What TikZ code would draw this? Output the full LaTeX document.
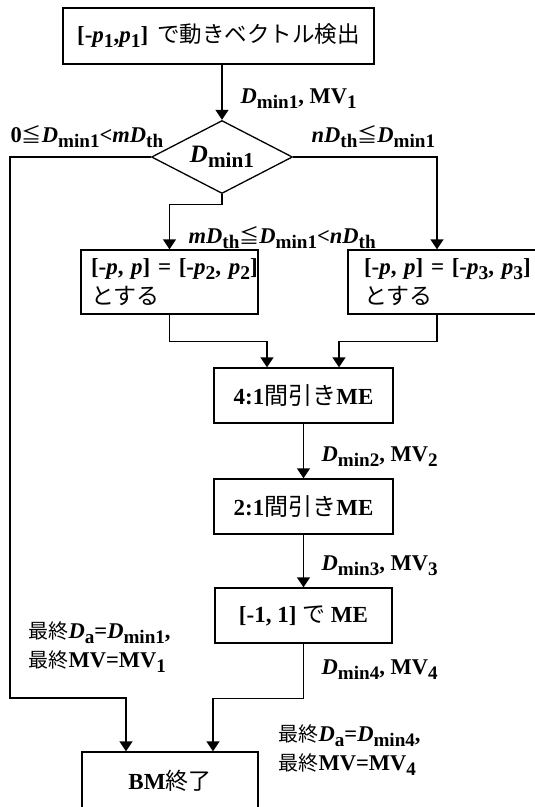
\documentclass[tikz,border=0pt]{standalone}
\usepackage{fontspec}
\usepackage{graphicx}
\setmainfont{Liberation Serif}
\newfontfamily\jp{Noto Sans CJK JP}
\usetikzlibrary{arrows.meta,shapes.geometric}
\newcommand{\J}[2][]{{\jp\mdseries\ifx&#1&\else\fontsize{#1}{#1}\selectfont\fi #2}}
\newcommand{\bi}[1]{{\bfseries\itshape #1}}
\newcommand{\sbx}[1]{\raisebox{-0.22em}{\scalebox{0.85}{\bfseries #1}}}
\newcommand{\Dm}[1]{\bi{D}\sbx{min#1}}
\newcommand{\Dth}{\bi{D}\sbx{th}}
\newcommand{\MVs}[1]{MV\sbx{#1}}
\newcommand{\myle}{\J[20]{≦}}
\newcommand{\fs}[2]{\fontsize{#1}{#2}\selectfont}
\begin{document}
\begin{tikzpicture}[x=1pt,y=-1pt,line width=1.3pt,
  box/.style={draw,rectangle,inner sep=0pt,font=\fs{23}{30}\bfseries},
  arr/.style={-{Triangle[length=10pt,width=13pt]}},
  lbl/.style={inner sep=0pt,anchor=west,font=\fs{22.5}{29}\bfseries,align=left}]
\useasboundingbox (0,0) rectangle (535,807);
% boxes
\node[box,minimum width=311pt,minimum height=56pt] (top) at (218.5,36)
  {\makebox[291pt][c]{[-\bi{p}\sbx{1},\bi{p}\sbx{1}]\hspace{9pt}\J[22.5]{で動きベクトル検出}}};
\node[draw,diamond,aspect=1.93,minimum width=141pt,minimum height=73pt,inner sep=0pt,font=\fs{25}{29}\bfseries] (dia) at (222,157) {\Dm{1}};
\node[box,minimum width=177pt,minimum height=64pt,inner xsep=10pt,text width=157pt,align=left] (lb) at (169.5,282)
  {\makebox[157pt][l]{[-\bi{p}, \bi{p}] = [-\bi{p}\sbx{2}, \bi{p}\sbx{2}]}\\\J[23]{とする}};
\node[box,minimum width=192pt,minimum height=64pt,inner xsep=16pt,text width=160pt,align=left] (rb) at (444,282)
  {\makebox[160pt][l]{[-\bi{p}, \bi{p}] = [-\bi{p}\sbx{3}, \bi{p}\sbx{3}]}\\\J[23]{とする}};
\node[box,minimum width=179pt,minimum height=55pt] (b41) at (303.5,395.5) {4:1\J[24]{間引き}ME};
\node[box,minimum width=179pt,minimum height=55pt] (b21) at (303.5,506.5) {2:1\J[24]{間引き}ME};
\node[box,minimum width=177pt,minimum height=55pt] (b11) at (303.5,615.5) {[-1, 1] \J[23]{で} ME};
\node[box,minimum width=176pt,minimum height=57pt] (bm) at (170,780.5) {BM\J[23]{終了}};
% coordinates
\coordinate (cL) at (10,698);
% connectors
\draw[arr] (top.south -| dia.north) -- (dia.north);
\draw[arr] (dia.west) -| (cL) -| (126,0 |- bm.north);
\draw[arr] (dia.east) -| (437,0 |- rb.north);
\draw[arr] (dia.south) -- ++(0,10) -| (lb.north);
\draw[arr] (lb.south) -- ++(0,27) -| (267,0 |- b41.north);
\draw[arr] (437,0 |- rb.south) -- ++(0,27) -| (339,0 |- b41.north);
\draw[arr] (b41.south) -- (b21.north);
\draw[arr] (b21.south) -- (b11.north);
\draw[arr] (b11.south) -- ++(0,55) -| (213,0 |- bm.north);
% labels
\node[lbl] (l1) at (240,99) {\Dm{1}, \MVs{1}};
\node[lbl] (l2) at (10,137) {0\myle\Dm{1}<\bi{m}\Dth};
\node[lbl] (l3) at (311,137) {\bi{n}\Dth\myle\Dm{1}};
\node[lbl] (l4) at (188,238) {\bi{m}\Dth\myle\Dm{1}<\bi{n}\Dth};
\node[lbl] (l5) at (321,457) {\Dm{2}, \MVs{2}};
\node[lbl] (l6) at (321,566) {\Dm{3}, \MVs{3}};
\node[lbl] (l7) at (321,670) {\Dm{4}, \MVs{4}};
\node[lbl] (l8) at (28,647.5) {\J[20]{最終}\bi{D}\sbx{a}=\Dm{1},\\\J[20]{最終}MV=\MVs{1}};
\node[lbl] (l9) at (278,750.5) {\J[20]{最終}\bi{D}\sbx{a}=\Dm{4},\\\J[20]{最終}MV=\MVs{4}};
\end{tikzpicture}
\end{document}
